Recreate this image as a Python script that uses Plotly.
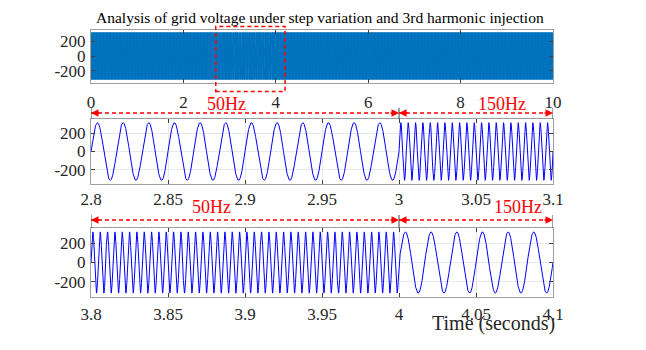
import numpy as np
import plotly.graph_objects as go

# signal segments (cycles counted per window)
seg_start = [0.0, 3.0, 4.0]
seg_end = [3.0, 4.0, 10.0]
seg_freq = [60.0, 210.0, 60.0]
amplitude = 315.0

# panel windows (seconds)
win_start = [0.0, 2.8, 3.8]
win_end = [10.0, 3.1, 4.1]
sample_rate = [5000, 20000, 20000]

top_ticks = [0, 2, 4, 6, 8, 10]
mid_ticks = [2.8, 2.85, 2.9, 2.95, 3.0, 3.05, 3.1]
mid_labels = ["2.8", "2.85", "2.9", "2.95", "3", "3.05", "3.1"]
bot_ticks = [3.8, 3.85, 3.9, 3.95, 4.0, 4.05, 4.1]
bot_labels = ["3.8", "3.85", "3.9", "3.95", "4", "4.05", "4.1"]
y_ticks = [-200, 0, 200]
y_labels = ["-200", "0", "200"]

# frequency bands marked above the zoomed panels
mid_bands = [(2.8, 3.0, "50Hz"), (3.0, 3.1, "150Hz")]
bot_bands = [(3.8, 4.0, "50Hz"), (4.0, 4.1, "150Hz")]

W, H = 646, 350
SERIF = "Liberation Serif, Times New Roman, serif"
TXT = "#262626"
RED = "#ff0000"


def py(px):
    return 1 - px / H


def voltage(t):
    v = np.zeros_like(t)
    for s, e, f in zip(seg_start, seg_end, seg_freq):
        m = (t >= s) & (t < e)
        v[m] = amplitude * np.sin(2 * np.pi * f * t[m])
    return v


fig = go.Figure()
colors = ["#0072bd", "#0000ff", "#0000ff"]
for i in range(3):
    t = np.arange(win_start[i], win_end[i] + 1e-9, 1.0 / sample_rate[i])
    fig.add_trace(go.Scatter(
        x=t, y=voltage(t), mode="lines",
        line=dict(color=colors[i], width=1),
        xaxis="x" if i == 0 else f"x{i+1}",
        yaxis="y" if i == 0 else f"y{i+1}",
        showlegend=False, hoverinfo="skip"
    ))

xdom = [91 / W, 553 / W]
ydoms = [[py(82.5), py(29.5)], [py(184), py(119)], [py(297), py(228)]]

axis_common = dict(
    showline=True, linecolor="#a0a0a0", linewidth=1, mirror="allticks",
    ticks="inside", ticklen=4, tickcolor="#404040", automargin=False,
    tickfont=dict(family=SERIF, size=17, color=TXT),
    zeroline=False, gridcolor="#e8e8e8"
)

fig.update_layout(
    template="none",
    width=W, height=H,
    margin=dict(l=0, r=0, t=0, b=0),
    paper_bgcolor="white", plot_bgcolor="white",
    xaxis=dict(domain=xdom, anchor="y", range=[0, 10], tickvals=top_ticks,
               showgrid=False, ticklabelstandoff=4, **axis_common),
    yaxis=dict(domain=ydoms[0], anchor="x", range=[-355, 355],
               tickvals=y_ticks, ticktext=y_labels, showgrid=False,
               ticklabelstandoff=1, **axis_common),
    xaxis2=dict(domain=xdom, anchor="y2", range=[2.8, 3.1], tickvals=mid_ticks,
                ticktext=mid_labels, showgrid=True, ticklabelstandoff=0,
                **axis_common),
    yaxis2=dict(domain=ydoms[1], anchor="x2", range=[-355, 355],
                tickvals=y_ticks, ticktext=y_labels, showgrid=True,
                ticklabelstandoff=1, **axis_common),
    xaxis3=dict(domain=xdom, anchor="y3", range=[3.8, 4.1], tickvals=bot_ticks,
                ticktext=bot_labels, showgrid=True, ticklabelstandoff=2,
                **axis_common),
    yaxis3=dict(domain=ydoms[2], anchor="x3", range=[-355, 355],
                tickvals=y_ticks, ticktext=y_labels, showgrid=True,
                ticklabelstandoff=1, **axis_common),
)

# zoom window marked on the overview
fig.add_shape(type="rect", xref="x", yref="paper", x0=2.7, x1=4.2,
              y0=py(91.5), y1=py(26.5),
              line=dict(color=RED, width=1.5, dash="4px,3px"))


def band_arrows(bands, xref, arrow_px, top_px, label_px, label_x):
    for (a, b, name), lx in zip(bands, label_x):
        fig.add_shape(type="line", xref=xref, yref="paper",
                      x0=a, x1=b, y0=py(arrow_px), y1=py(arrow_px),
                      line=dict(color=RED, width=1.5, dash="4px,3px"))
        for x, d in ((a, 10), (b, -10)):
            fig.add_annotation(x=x, y=py(arrow_px), xref=xref, yref="paper",
                               ax=d, ay=0, text="", showarrow=True,
                               arrowhead=2, arrowsize=1, arrowwidth=1.5,
                               arrowcolor=RED)
        fig.add_annotation(x=lx, y=py(label_px), xref=xref, yref="paper",
                           xanchor="center", yanchor="middle",
                           text=name, showarrow=False,
                           font=dict(family=SERIF, size=18, color=RED))
    for x in sorted({v for bd in bands for v in bd[:2]}):
        fig.add_shape(type="line", xref=xref, yref="paper",
                      x0=x, x1=x, y0=py(arrow_px - 5), y1=py(top_px),
                      line=dict(color="#404040", width=1))


band_arrows(mid_bands, "x2", 113, 119, 104, [2.888, 3.067])
band_arrows(bot_bands, "x3", 220, 228, 207, [3.878, 4.077])

fig.add_annotation(x=320 / W, y=py(17), xref="paper", yref="paper",
                   xanchor="center", yanchor="middle",
                   text="Analysis of grid voltage under step variation and 3rd harmonic injection",
                   showarrow=False, font=dict(family=SERIF, size=15.5, color="black"))
fig.add_annotation(x=494 / W, y=py(323), xref="paper", yref="paper",
                   xanchor="center", yanchor="middle",
                   text="Time (seconds)", showarrow=False,
                   font=dict(family=SERIF, size=20, color=TXT))

fig.write_html("out.html", config={"displayModeBar": False},
               post_script="document.body.style.margin='0';")
